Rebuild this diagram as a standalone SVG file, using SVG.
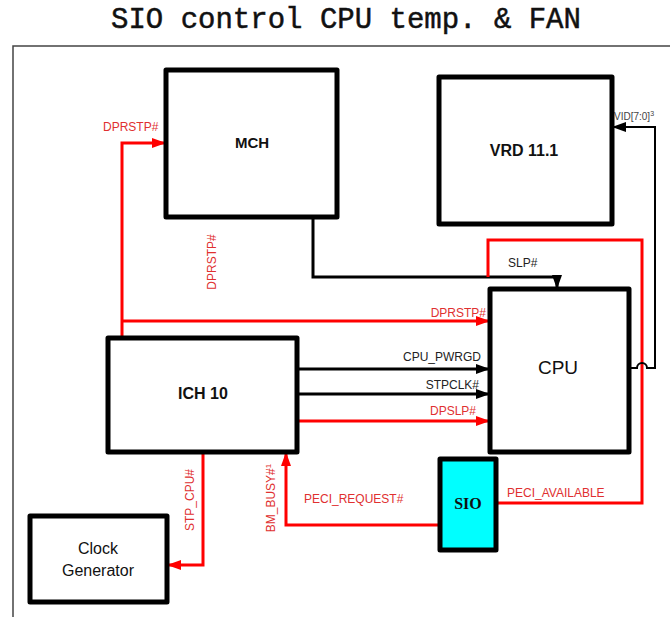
<svg xmlns="http://www.w3.org/2000/svg" width="670" height="617" viewBox="0 0 670 617">
<defs>
<style>
.box{fill:#fff;stroke:#000;stroke-width:5;stroke-linejoin:round}
.lbl{font-family:"Liberation Sans",Arial,sans-serif;fill:#111;text-anchor:middle}
.b{font-weight:bold}
.wb{stroke:#000;stroke-width:3;fill:none}
.wr{stroke:#f00;stroke-width:3;fill:none}
.tr{font-family:"Liberation Sans",Arial,sans-serif;font-size:12px;fill:#e03030}
.tb{font-family:"Liberation Sans",Arial,sans-serif;font-size:12px;fill:#222}
</style>
<marker id="ab" markerUnits="userSpaceOnUse" markerWidth="15" markerHeight="12" refX="14" refY="5" orient="auto"><path d="M0,0 L14,5 L0,10 z" fill="#000"/></marker>
<marker id="ar" markerUnits="userSpaceOnUse" markerWidth="15" markerHeight="12" refX="14" refY="5" orient="auto"><path d="M0,0 L14,5 L0,10 z" fill="#f00"/></marker>
</defs>
<rect width="670" height="617" fill="#fff"/>
<text x="346" y="28" font-family="'Liberation Mono','Courier New',monospace" font-size="29" text-anchor="middle" fill="#111" stroke="#111" stroke-width="0.5">SIO control CPU temp. &amp; FAN</text>
<path d="M13,617 V46 H670" fill="none" stroke="#444" stroke-width="1.5"/>

<g id="connectors">
<path class="wb" d="M313,217 V277 H557 V289" marker-end="url(#ab)"/>
<text class="tb" x="508" y="267">SLP#</text>
<path class="wr" d="M488,277 V240 H642 V503 H496"/>
<circle cx="496" cy="503" r="2.5" fill="#f00"/>
<path d="M629,368 H637 A5,5 0 0 1 647,368 H655 V127 H612" fill="none" stroke="#000" stroke-width="2" marker-end="url(#ab)"/>
<text x="614" y="120" font-family="'Liberation Sans',Arial,sans-serif" font-size="10" fill="#444">VID[7:0]<tspan font-size="7" dy="-4">3</tspan></text>
<path class="wr" d="M122,338 V143 H166" marker-end="url(#ar)"/>
<text class="tr" x="103" y="131">DPRSTP#</text>
<text class="tr" transform="translate(216,262) rotate(-90)" text-anchor="middle">DPRSTP#</text>
<path class="wr" d="M122,321 H490" marker-end="url(#ar)"/>
<text class="tr" x="486" y="317" text-anchor="end">DPRSTP#</text>
<path class="wb" d="M297,369 H490" marker-end="url(#ab)"/>
<text class="tb" x="481" y="361" text-anchor="end">CPU_PWRGD</text>
<path class="wb" d="M297,394 H490" marker-end="url(#ab)"/>
<text class="tb" x="479" y="389" text-anchor="end">STPCLK#</text>
<path class="wr" d="M297,421 H490" marker-end="url(#ar)"/>
<text class="tr" x="476" y="415" text-anchor="end">DPSLP#</text>
<path class="wr" d="M203,452 V565 H167" marker-end="url(#ar)"/>
<text class="tr" transform="translate(194,500) rotate(-90)" text-anchor="middle">STP_CPU#</text>
<path class="wr" d="M440,525 H286 V452" marker-end="url(#ar)"/>
<text class="tr" transform="translate(275,498) rotate(-90)" text-anchor="middle">BM_BUSY#<tspan font-size="8" dy="-4">1</tspan></text>
<text class="tr" x="304" y="503">PECI_REQUEST#</text>
<text class="tr" x="507" y="497">PECI_AVAILABLE</text>
</g>

<g id="mch"><rect class="box" x="166" y="70" width="171" height="147"/><text class="lbl b" x="252" y="148" font-size="15">MCH</text></g>
<g id="vrd"><rect class="box" x="439" y="77" width="173" height="147"/><text class="lbl b" x="524" y="156" font-size="16">VRD 11.1</text></g>
<g id="cpu"><rect class="box" x="490" y="289" width="139" height="163"/><text class="lbl" x="558" y="374" font-size="19">CPU</text></g>
<g id="ich"><rect class="box" x="108" y="338" width="189" height="114"/><text class="lbl b" x="203" y="399" font-size="16">ICH 10</text></g>
<g id="clock"><rect class="box" x="30" y="516" width="137" height="86"/><text class="lbl" x="98" y="554" font-size="16">Clock</text><text class="lbl" x="98" y="576" font-size="16">Generator</text></g>
<g id="sio"><rect x="440" y="459" width="56" height="91" fill="#00ffff" stroke="#000" stroke-width="5" stroke-linejoin="round"/><text x="468" y="509" font-family="'Liberation Serif','Times New Roman',serif" font-size="16" font-weight="bold" text-anchor="middle" fill="#111">SIO</text></g>
</svg>
